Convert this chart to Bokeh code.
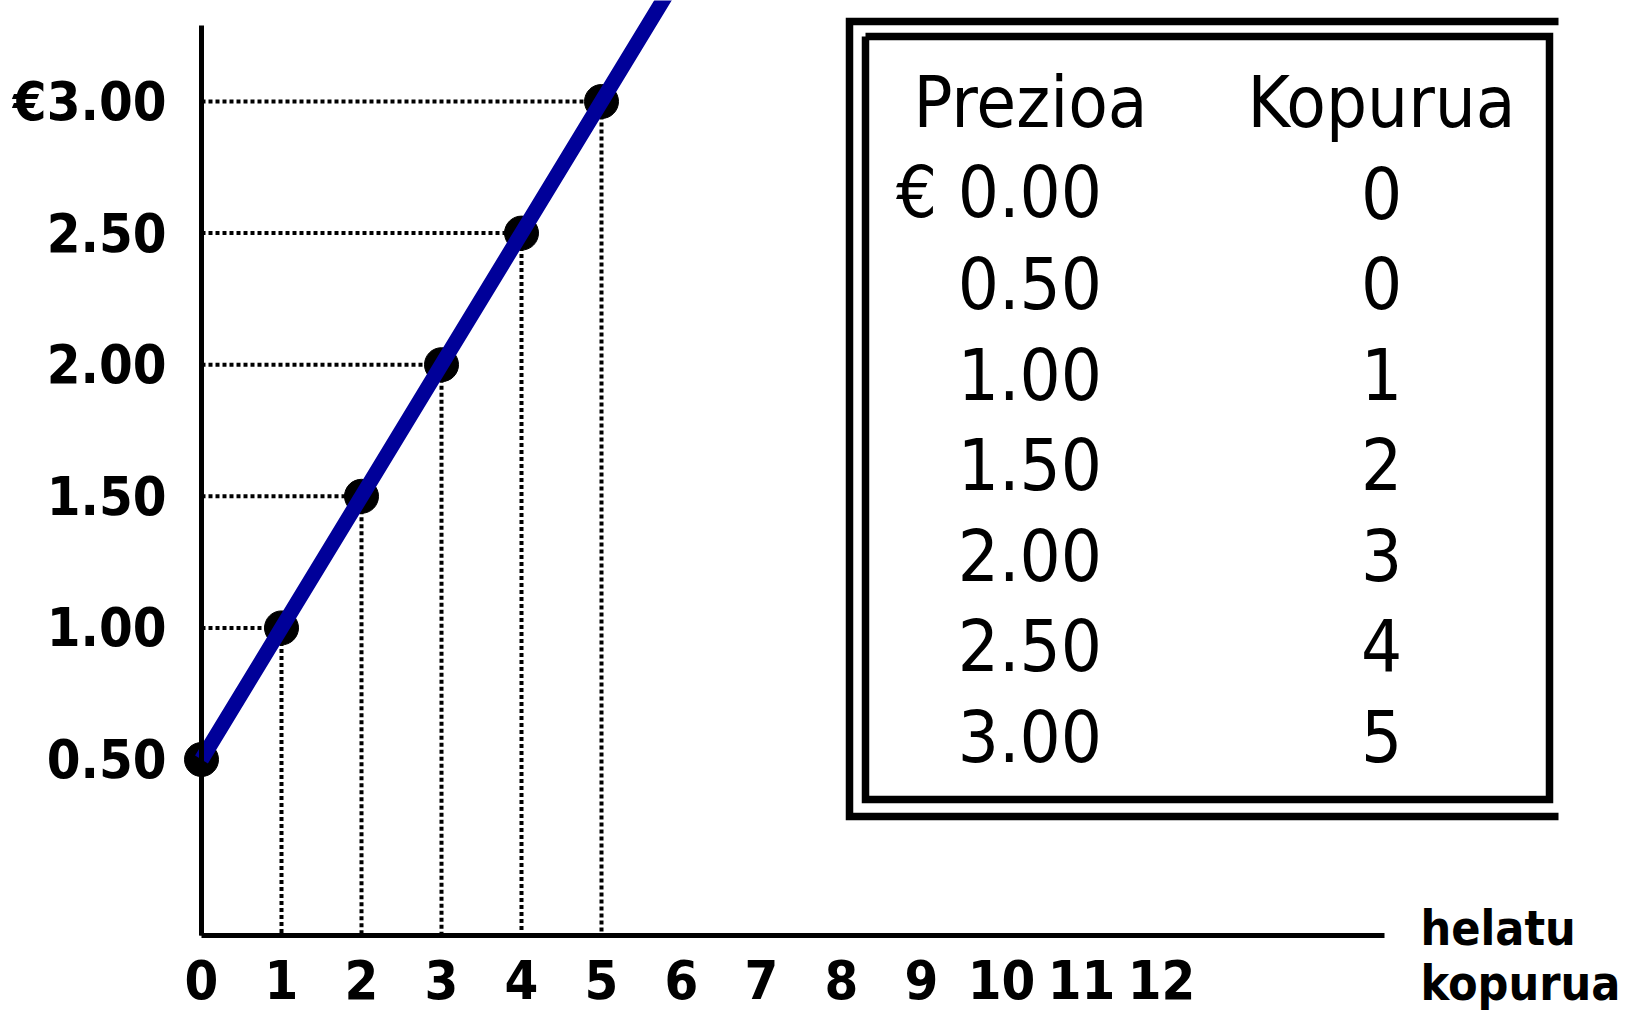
import numpy as np
from bokeh.plotting import figure
from bokeh.models import Range1d, LinearAxis, FixedTicker, NumeralTickFormatter
from bokeh.core.properties import value
from bokeh.embed import file_html
from bokeh.resources import INLINE

# ---------------- data ----------------
prices = [0.00, 0.50, 1.00, 1.50, 2.00, 2.50, 3.00]      # Prezioa (€)
quantities = [0, 0, 1, 2, 3, 4, 5]                         # Kopurua
table_headers = ["Prezioa", "Kopurua"]
y_ticks = [0.5, 1.0, 1.5, 2.0, 2.5, 3.0]
y_tick_labels = ["0.50", "1.00", "1.50", "2.00", "2.50", "€3.00"]
x_ticks = list(range(0, 13))
x_tick_labels = [str(t) for t in x_ticks]
x_title_lines = ["helatu", "kopurua"]

# ---------------- layout constants (page pixels) ----------------
FONT = "DejaVu Sans Condensed"
BLUE = "#000099"
W, H = 1634, 1010
OX, OY = 0, 0                      # canvas origin on the page
PX_PER_X, PX_PER_Y = 80.0, 263.2
X_ZERO_PAGE, Y_HALF_PAGE = 201, 759  # page position of x=0 and of price 0.50
X0 = -(X_ZERO_PAGE - OX) / PX_PER_X
X1 = X0 + W / PX_PER_X
Y1 = 0.5 + (Y_HALF_PAGE - OY) / PX_PER_Y
Y0 = Y1 - H / PX_PER_Y
X_AXIS_Y = 0.5 - (935 - Y_HALF_PAGE) / PX_PER_Y
X_AXIS_END = (1384 - X_ZERO_PAGE) / PX_PER_X
Y_AXIS_TOP = 0.5 + (Y_HALF_PAGE - 25) / PX_PER_Y

p = figure(width=W, height=H,
           x_range=Range1d(X0, X1), y_range=Range1d(Y0, Y1),
           x_axis_type=None, y_axis_type=None,
           toolbar_location=None, output_backend="svg",
           min_border_left=0, min_border_right=0,
           min_border_top=0, min_border_bottom=0,
           background_fill_color="white", border_fill_color="white",
           outline_line_color=None)
p.extra_x_ranges = {"px": Range1d(OX, OX + W)}
p.extra_y_ranges = {"py": Range1d(OY + H, OY)}

# ---------------- axes ----------------
TICK_FONT_SIZE = "54px"
xaxis = LinearAxis(fixed_location=X_AXIS_Y, ticker=FixedTicker(ticks=x_ticks),
                   major_label_overrides={t: l for t, l in zip(x_ticks, x_tick_labels)},
                   bounds=(0, X_AXIS_END), axis_line_width=5, axis_line_color="black",
                   major_tick_line_color=None, minor_tick_line_color=None,
                   major_label_text_font=FONT, major_label_text_font_style="bold",
                   major_label_text_font_size=TICK_FONT_SIZE, major_label_text_color="black",
                   major_label_standoff=18)
p.add_layout(xaxis, "below")

yaxis = LinearAxis(fixed_location=0, ticker=FixedTicker(ticks=y_ticks),
                   formatter=NumeralTickFormatter(format="0.00"),
                   major_label_overrides={t: l for t, l in zip(y_ticks, y_tick_labels)},
                   bounds=(X_AXIS_Y, Y_AXIS_TOP), axis_line_width=5, axis_line_color="black",
                   major_tick_line_color=None, minor_tick_line_color=None,
                   major_label_text_font=FONT, major_label_text_font_style="bold",
                   major_label_text_font_size=TICK_FONT_SIZE, major_label_text_color="black",
                   major_label_standoff=29)
p.add_layout(yaxis, "left")

# ---------------- chart marks ----------------
pts_q = [q for q, pr in zip(quantities, prices) if pr > 0]
pts_p = [pr for pr in prices if pr > 0]

dot_style = dict(line_color="black", line_width=4, line_dash="4 3")
p.segment(x0=[0] * len(pts_q), y0=pts_p, x1=pts_q, y1=pts_p, **dot_style)
p.segment(x0=pts_q, y0=pts_p, x1=pts_q, y1=[X_AXIS_Y] * len(pts_q), **dot_style)
p.scatter(x=pts_q, y=pts_p, size=34, color="black")

# supply line, continued to the top edge
slope = (pts_p[-1] - pts_p[-2]) / (pts_q[-1] - pts_q[-2])
x_end = pts_q[-1] + (Y1 + 0.05 - pts_p[-1]) / slope
p.line(x=pts_q + [x_end], y=pts_p + [Y1 + 0.05], line_color=BLUE, line_width=15)

# ---------------- table ----------------
BOX_OUT = dict(l=849, t=21, r=1558, b=816)
BOX_IN = dict(l=865, t=36, r=1549, b=799)
p.line(x=[BOX_OUT["r"], BOX_OUT["l"], BOX_OUT["l"], BOX_OUT["r"]],
       y=[BOX_OUT["t"], BOX_OUT["t"], BOX_OUT["b"], BOX_OUT["b"]],
       x_range_name="px", y_range_name="py", line_color="black", line_width=7.5,
       line_join="miter")
p.line(x=[BOX_IN["l"], BOX_IN["r"], BOX_IN["r"], BOX_IN["l"], BOX_IN["l"]],
       y=[BOX_IN["t"], BOX_IN["t"], BOX_IN["b"], BOX_IN["b"], BOX_IN["t"]],
       x_range_name="px", y_range_name="py", line_color="black", line_width=7.5,
       line_join="miter")

TABLE_SIZE = 72
MID = 0.357 * TABLE_SIZE          # baseline -> middle of the text box
ROW0, ROW_STEP = 127, 90.5         # baseline of the header, row spacing
COL_PRICE_RIGHT, COL_HDR_PRICE, COL_QTY = 1101.5, 1030, 1381
row_y = [ROW0 + ROW_STEP * (i + 1) - MID for i in range(len(prices))]
price_txt = [("€ " if i == 0 else "") + f"{v:.2f}" for i, v in enumerate(prices)]
qty_txt = [str(q) for q in quantities]

txt_style = dict(text_font=value(FONT), text_font_size=f"{TABLE_SIZE}px", text_color="black",
                 text_baseline="middle", x_range_name="px", y_range_name="py")
p.text(x=[COL_HDR_PRICE, COL_QTY], y=[ROW0 - MID] * 2, text=table_headers,
       text_align="center", **txt_style)
p.text(x=[COL_PRICE_RIGHT] * len(prices), y=row_y, text=price_txt,
       text_align="right", **txt_style)
p.text(x=[COL_QTY] * len(quantities), y=row_y, text=qty_txt,
       text_align="center", **txt_style)

# ---------------- x title ----------------
TITLE_SIZE = 48
p.text(x=[1420] * 2, y=[945 - 0.357 * TITLE_SIZE, 1000 - 0.357 * TITLE_SIZE],
       text=x_title_lines, x_range_name="px", y_range_name="py",
       text_font=value(FONT), text_font_style="bold", text_font_size=f"{TITLE_SIZE}px",
       text_color="black", text_baseline="middle", text_align="left")

open("out.html", "w").write(file_html(p, INLINE))
